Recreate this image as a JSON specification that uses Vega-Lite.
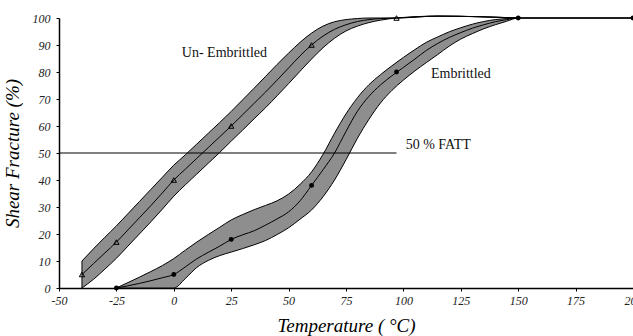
{
  "$schema": "https://vega.github.io/schema/vega-lite/v6.json",
  "autosize": {"type": "none"},
  "width": 574,
  "height": 270,
  "padding": {"left": 59, "top": 18, "right": 0, "bottom": 48},
  "background": "white",
  "config": {
    "view": {"stroke": null},
    "font": "Liberation Serif",
    "axis": {
      "labelFont": "Liberation Serif", "labelFontStyle": "italic", "labelFontSize": 12, "labelColor": "#222",
      "labelOverlap": false, "labelFlush": false,
      "titleFont": "Liberation Serif", "titleFontStyle": "italic", "titleFontWeight": "normal", "titleFontSize": 19, "titleColor": "black",
      "domainColor": "black", "domainWidth": 1.5, "tickColor": "black", "tickSize": 3, "grid": false
    }
  },
  "datasets": {
    "bands": [
      {"series": "Un-Embrittled", "T": -40, "center": 5, "upper": 10, "lower": 0},
      {"series": "Un-Embrittled", "T": -35, "center": 9, "upper": 14.5, "lower": 3.2},
      {"series": "Un-Embrittled", "T": -30, "center": 13, "upper": 18.8, "lower": 7},
      {"series": "Un-Embrittled", "T": -25, "center": 17, "upper": 23, "lower": 11},
      {"series": "Un-Embrittled", "T": -20, "center": 21.5, "upper": 27.5, "lower": 15.5},
      {"series": "Un-Embrittled", "T": -15, "center": 26, "upper": 32, "lower": 20},
      {"series": "Un-Embrittled", "T": -10, "center": 30.5, "upper": 36.5, "lower": 24.5},
      {"series": "Un-Embrittled", "T": -5, "center": 35.2, "upper": 41, "lower": 29.2},
      {"series": "Un-Embrittled", "T": 0, "center": 40, "upper": 45.5, "lower": 34},
      {"series": "Un-Embrittled", "T": 5, "center": 44, "upper": 49.3, "lower": 38.2},
      {"series": "Un-Embrittled", "T": 10, "center": 48, "upper": 53.3, "lower": 42.2},
      {"series": "Un-Embrittled", "T": 15, "center": 52, "upper": 57.3, "lower": 46.2},
      {"series": "Un-Embrittled", "T": 20, "center": 56, "upper": 61.3, "lower": 50.2},
      {"series": "Un-Embrittled", "T": 25, "center": 60, "upper": 65.4, "lower": 54.4},
      {"series": "Un-Embrittled", "T": 30, "center": 64.2, "upper": 69.7, "lower": 58.5},
      {"series": "Un-Embrittled", "T": 35, "center": 68.4, "upper": 74, "lower": 62.7},
      {"series": "Un-Embrittled", "T": 40, "center": 72.6, "upper": 78.4, "lower": 66.8},
      {"series": "Un-Embrittled", "T": 45, "center": 77, "upper": 82.8, "lower": 71.2},
      {"series": "Un-Embrittled", "T": 50, "center": 81.5, "upper": 87, "lower": 75.7},
      {"series": "Un-Embrittled", "T": 55, "center": 86, "upper": 91, "lower": 80.3},
      {"series": "Un-Embrittled", "T": 60, "center": 90, "upper": 94.4, "lower": 84.8},
      {"series": "Un-Embrittled", "T": 65, "center": 93.3, "upper": 97, "lower": 89},
      {"series": "Un-Embrittled", "T": 70, "center": 95.8, "upper": 98.6, "lower": 92.5},
      {"series": "Un-Embrittled", "T": 75, "center": 97.5, "upper": 99.4, "lower": 95.2},
      {"series": "Un-Embrittled", "T": 80, "center": 98.7, "upper": 99.8, "lower": 97},
      {"series": "Un-Embrittled", "T": 85, "center": 99.4, "upper": 100, "lower": 98.3},
      {"series": "Un-Embrittled", "T": 90, "center": 99.8, "upper": 100, "lower": 99.2},
      {"series": "Un-Embrittled", "T": 97, "center": 100, "upper": 100, "lower": 100},
      {"series": "Un-Embrittled", "T": 115, "center": 100.7, "upper": 100.7, "lower": 100.7},
      {"series": "Un-Embrittled", "T": 150, "center": 100, "upper": 100, "lower": 100},

      {"series": "Embrittled", "T": -25, "center": 0, "upper": 0, "lower": 0},
      {"series": "Embrittled", "T": -20, "center": 0.8, "upper": 2.0, "lower": 0},
      {"series": "Embrittled", "T": -15, "center": 1.7, "upper": 4.0, "lower": 0},
      {"series": "Embrittled", "T": -10, "center": 2.7, "upper": 6.1, "lower": 0},
      {"series": "Embrittled", "T": -5, "center": 3.8, "upper": 8.3, "lower": 0},
      {"series": "Embrittled", "T": 0, "center": 5, "upper": 10.9, "lower": 0},
      {"series": "Embrittled", "T": 5, "center": 7.8, "upper": 14, "lower": 3.5},
      {"series": "Embrittled", "T": 10, "center": 10.8, "upper": 17, "lower": 7.6},
      {"series": "Embrittled", "T": 15, "center": 13.2, "upper": 19.8, "lower": 10.2},
      {"series": "Embrittled", "T": 20, "center": 15.5, "upper": 22.5, "lower": 12},
      {"series": "Embrittled", "T": 25, "center": 18, "upper": 25.2, "lower": 13.3},
      {"series": "Embrittled", "T": 30, "center": 19.7, "upper": 27.2, "lower": 14.6},
      {"series": "Embrittled", "T": 35, "center": 21.2, "upper": 29, "lower": 16},
      {"series": "Embrittled", "T": 40, "center": 23.3, "upper": 30.6, "lower": 17.6},
      {"series": "Embrittled", "T": 45, "center": 25.6, "upper": 32.3, "lower": 19.8},
      {"series": "Embrittled", "T": 50, "center": 28.2, "upper": 34.8, "lower": 22.3},
      {"series": "Embrittled", "T": 55, "center": 32.3, "upper": 38.4, "lower": 25.5},
      {"series": "Embrittled", "T": 60, "center": 38, "upper": 43, "lower": 28.9},
      {"series": "Embrittled", "T": 65, "center": 43.8, "upper": 49.5, "lower": 33.8},
      {"series": "Embrittled", "T": 70, "center": 50, "upper": 57.3, "lower": 40},
      {"series": "Embrittled", "T": 75, "center": 58, "upper": 64.5, "lower": 47.5},
      {"series": "Embrittled", "T": 80, "center": 65.5, "upper": 70.5, "lower": 55.5},
      {"series": "Embrittled", "T": 85, "center": 71, "upper": 75.3, "lower": 62.5},
      {"series": "Embrittled", "T": 90, "center": 75.2, "upper": 79, "lower": 68.5},
      {"series": "Embrittled", "T": 95, "center": 78.6, "upper": 82.3, "lower": 73.2},
      {"series": "Embrittled", "T": 100, "center": 81.7, "upper": 85.4, "lower": 77},
      {"series": "Embrittled", "T": 105, "center": 84.8, "upper": 88.3, "lower": 80.4},
      {"series": "Embrittled", "T": 110, "center": 88, "upper": 91, "lower": 83.5},
      {"series": "Embrittled", "T": 115, "center": 90.6, "upper": 93, "lower": 86.5},
      {"series": "Embrittled", "T": 120, "center": 92.8, "upper": 94.9, "lower": 89.6},
      {"series": "Embrittled", "T": 125, "center": 94.6, "upper": 96.4, "lower": 92.2},
      {"series": "Embrittled", "T": 130, "center": 96.2, "upper": 97.7, "lower": 94.2},
      {"series": "Embrittled", "T": 135, "center": 97.5, "upper": 98.7, "lower": 96},
      {"series": "Embrittled", "T": 140, "center": 98.6, "upper": 99.4, "lower": 97.5},
      {"series": "Embrittled", "T": 145, "center": 99.4, "upper": 99.8, "lower": 98.8},
      {"series": "Embrittled", "T": 150, "center": 100, "upper": 100, "lower": 100},
      {"series": "Embrittled", "T": 200, "center": 100, "upper": 100, "lower": 100}
    ],
    "points": [
      {"series": "Un-Embrittled", "T": -40, "SF": 5},
      {"series": "Un-Embrittled", "T": -25, "SF": 17},
      {"series": "Un-Embrittled", "T": 0, "SF": 40},
      {"series": "Un-Embrittled", "T": 25, "SF": 60},
      {"series": "Un-Embrittled", "T": 60, "SF": 90},
      {"series": "Un-Embrittled", "T": 97, "SF": 100},
      {"series": "Embrittled", "T": -25, "SF": 0},
      {"series": "Embrittled", "T": 0, "SF": 5},
      {"series": "Embrittled", "T": 25, "SF": 18},
      {"series": "Embrittled", "T": 60, "SF": 38},
      {"series": "Embrittled", "T": 97, "SF": 80},
      {"series": "Embrittled", "T": 150, "SF": 100},
      {"series": "Embrittled", "T": 200, "SF": 100}
    ],
    "fatt": [{"T": -50, "T2": 97, "SF": 50}],
    "labels": [
      {"T": 3.5, "SF": 87, "text": "Un- Embrittled"},
      {"T": 112, "SF": 79.3, "text": "Embrittled"},
      {"T": 101, "SF": 53, "text": "50 % FATT"}
    ]
  },
  "layer": [
    {
      "data": {"name": "bands"},
      "mark": {"type": "area", "interpolate": "monotone", "fill": "#8e8e8e", "stroke": "black", "strokeWidth": 1},
      "encoding": {
        "x": {"field": "T", "type": "quantitative", "scale": {"domain": [-50, 200], "nice": false, "zero": false},
          "axis": {"values": [-50, -25, 0, 25, 50, 75, 100, 125, 150, 175, 200], "labelExpr": "replace(datum.label, '−', '-')", "title": "Temperature ( °C)", "titlePadding": 10, "labelPadding": 4}},
        "y": {"field": "upper", "type": "quantitative", "scale": {"domain": [0, 100], "nice": false},
          "axis": {"values": [0, 10, 20, 30, 40, 50, 60, 70, 80, 90, 100], "tickCount": 11, "title": "Shear Fracture (%)", "titlePadding": 10, "labelPadding": 6}},
        "y2": {"field": "lower"},
        "detail": {"field": "series"}
      }
    },
    {
      "data": {"name": "bands"},
      "mark": {"type": "line", "interpolate": "monotone", "color": "black", "strokeWidth": 1},
      "encoding": {
        "x": {"field": "T", "type": "quantitative", "scale": {"domain": [-50, 200], "nice": false, "zero": false},
          "axis": {"values": [-50, -25, 0, 25, 50, 75, 100, 125, 150, 175, 200], "labelExpr": "replace(datum.label, '−', '-')", "title": "Temperature ( °C)", "titlePadding": 10, "labelPadding": 4}},
        "y": {"field": "center", "type": "quantitative", "scale": {"domain": [0, 100], "nice": false},
          "axis": {"values": [0, 10, 20, 30, 40, 50, 60, 70, 80, 90, 100], "tickCount": 11, "title": "Shear Fracture (%)", "titlePadding": 10, "labelPadding": 6}},
        "detail": {"field": "series"}
      }
    },
    {
      "data": {"name": "fatt"},
      "mark": {"type": "rule", "color": "black", "strokeWidth": 1},
      "encoding": {
        "x": {"field": "T", "type": "quantitative", "scale": {"domain": [-50, 200], "nice": false, "zero": false},
          "axis": {"values": [-50, -25, 0, 25, 50, 75, 100, 125, 150, 175, 200], "labelExpr": "replace(datum.label, '−', '-')", "title": "Temperature ( °C)", "titlePadding": 10, "labelPadding": 4}},
        "x2": {"field": "T2"},
        "y": {"field": "SF", "type": "quantitative", "scale": {"domain": [0, 100], "nice": false},
          "axis": {"values": [0, 10, 20, 30, 40, 50, 60, 70, 80, 90, 100], "tickCount": 11, "title": "Shear Fracture (%)", "titlePadding": 10, "labelPadding": 6}}
      }
    },
    {
      "data": {"name": "points"},
      "transform": [{"filter": "datum.series == 'Un-Embrittled'"}],
      "mark": {"type": "point", "shape": "triangle-up", "filled": false, "stroke": "black", "strokeWidth": 1, "size": 28, "opacity": 1},
      "encoding": {
        "x": {"field": "T", "type": "quantitative", "scale": {"domain": [-50, 200], "nice": false, "zero": false},
          "axis": {"values": [-50, -25, 0, 25, 50, 75, 100, 125, 150, 175, 200], "labelExpr": "replace(datum.label, '−', '-')", "title": "Temperature ( °C)", "titlePadding": 10, "labelPadding": 4}},
        "y": {"field": "SF", "type": "quantitative", "scale": {"domain": [0, 100], "nice": false},
          "axis": {"values": [0, 10, 20, 30, 40, 50, 60, 70, 80, 90, 100], "tickCount": 11, "title": "Shear Fracture (%)", "titlePadding": 10, "labelPadding": 6}}
      }
    },
    {
      "data": {"name": "points"},
      "transform": [{"filter": "datum.series == 'Embrittled'"}],
      "mark": {"type": "point", "shape": "circle", "filled": true, "color": "black", "size": 24, "opacity": 1},
      "encoding": {
        "x": {"field": "T", "type": "quantitative", "scale": {"domain": [-50, 200], "nice": false, "zero": false},
          "axis": {"values": [-50, -25, 0, 25, 50, 75, 100, 125, 150, 175, 200], "labelExpr": "replace(datum.label, '−', '-')", "title": "Temperature ( °C)", "titlePadding": 10, "labelPadding": 4}},
        "y": {"field": "SF", "type": "quantitative", "scale": {"domain": [0, 100], "nice": false},
          "axis": {"values": [0, 10, 20, 30, 40, 50, 60, 70, 80, 90, 100], "tickCount": 11, "title": "Shear Fracture (%)", "titlePadding": 10, "labelPadding": 6}}
      }
    },
    {
      "data": {"name": "labels"},
      "mark": {"type": "text", "align": "left", "baseline": "middle", "font": "Liberation Serif", "fontSize": 14, "color": "#111"},
      "encoding": {
        "x": {"field": "T", "type": "quantitative", "scale": {"domain": [-50, 200], "nice": false, "zero": false},
          "axis": {"values": [-50, -25, 0, 25, 50, 75, 100, 125, 150, 175, 200], "labelExpr": "replace(datum.label, '−', '-')", "title": "Temperature ( °C)", "titlePadding": 10, "labelPadding": 4}},
        "y": {"field": "SF", "type": "quantitative", "scale": {"domain": [0, 100], "nice": false},
          "axis": {"values": [0, 10, 20, 30, 40, 50, 60, 70, 80, 90, 100], "tickCount": 11, "title": "Shear Fracture (%)", "titlePadding": 10, "labelPadding": 6}},
        "text": {"field": "text"}
      }
    }
  ]
}
